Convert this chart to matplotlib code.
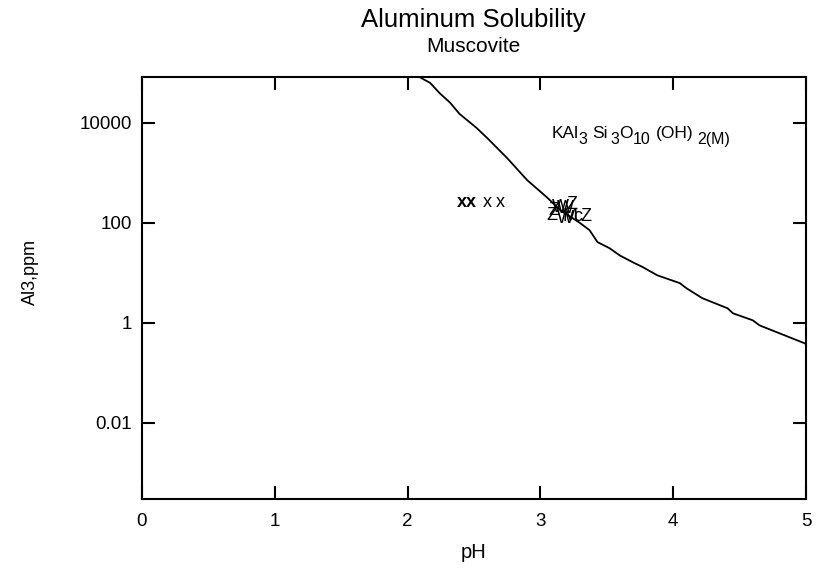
import matplotlib
matplotlib.use('Agg')
import matplotlib.pyplot as plt

plt.rcParams['font.family'] = ['Liberation Sans', 'DejaVu Sans']

# --- Data ---
curve_ph = [2.09, 2.17, 2.24, 2.32, 2.39, 2.52, 2.60, 2.75, 2.90, 3.05, 3.15, 3.30,
            3.37, 3.43, 3.52, 3.60, 3.70, 3.77, 3.88, 4.05, 4.10, 4.22, 4.41, 4.45,
            4.60, 4.65, 4.99]
curve_al = [81000, 62000, 39000, 25000, 15000, 7800, 4900, 1950, 710, 320, 178, 98,
            71, 41, 31, 22, 16, 13, 8.9, 6.2, 4.9, 3.1, 1.95, 1.55, 1.12, 0.89, 0.39]

x_ph = [2.41, 2.48, 2.60, 2.70]
x_al = [257, 257, 257, 257]
x_bold = [True, True, False, False]

cluster_ph = [3.10, 3.15, 3.19, 3.24, 3.09, 3.19, 3.22, 3.28, 3.34]
cluster_al = [178, 204, 195, 234, 141, 123, 135, 135, 135]
cluster_lbl = ['Z', 'W', 'W', 'Z', 'Z', 'W', 'M', 'c', 'Z']

# formula pieces: (text, is_subscript)
formula = [('KAl', False), ('3', True), ('Si', False), ('3', True), ('O', False),
           ('10', True), ('(OH)', False), ('2(M)', True)]
formula_gap = [0, 0, 3, 2, 0, 0, 4, 3]

yticks = [0.01, 1, 100, 10000]
ytick_labels = ['0.01', '1', '100', '10000']
xticks = [0, 1, 2, 3, 4, 5]

fig = plt.figure(figsize=(8.17, 5.81), dpi=100)
ax = fig.add_axes([0.1738, 0.1411, 0.8127, 0.7272])

ax.plot(curve_ph, curve_al, color='black', linewidth=1.3)

for px, py, bold in zip(x_ph, x_al, x_bold):
    ax.text(px, py, 'x', ha='center', va='center', fontsize=13, color='black',
            fontweight='bold' if bold else 'normal')
for px, py, lb in zip(cluster_ph, cluster_al, cluster_lbl):
    ax.text(px, py, lb, ha='center', va='center', fontsize=13, color='black')

# chemical formula built piece by piece, each one placed after the last
prev = ax.text(3.087, 4900, '', ha='left', va='baseline', fontsize=12.5)
for (txt, sub), gap in zip(formula, formula_gap):
    prev = ax.annotate(txt, xy=(1, 4900), xycoords=(prev, 'data'),
                       xytext=(gap, -4 if sub else 0), textcoords='offset points',
                       ha='left', va='baseline', fontsize=11.5 if sub else 12.5,
                       color='black')

ax.set_yscale('log')
ax.set_xlim(0, 5)
ax.set_ylim(10 ** -3.52, 10 ** 4.92)
ax.set_xticks(xticks)
ax.set_xticklabels([str(t) for t in xticks])
ax.set_yticks(yticks)
ax.set_yticklabels(ytick_labels)
ax.minorticks_off()
ax.tick_params(direction='in', length=9.5, width=1.5, top=True, right=True,
               labelsize=13.5)
ax.tick_params(axis='x', pad=10)
ax.tick_params(axis='y', pad=7)
for sp in ax.spines.values():
    sp.set_linewidth(1.5)

fig.text(473 / 817, 1 - 20 / 581, 'Aluminum Solubility', ha='center', va='center', fontsize=18.5)
fig.text(473 / 817, 1 - 47 / 581, 'Muscovite', ha='center', va='center', fontsize=15)
fig.text(474 / 817, 1 - 553 / 581, 'pH', ha='center', va='center', fontsize=14.5)
fig.text(30 / 817, 1 - 272 / 581, 'Al3,ppm', ha='center', va='center', fontsize=13, rotation=90)

plt.savefig('out.png', dpi=100, facecolor='white')
plt.close()
